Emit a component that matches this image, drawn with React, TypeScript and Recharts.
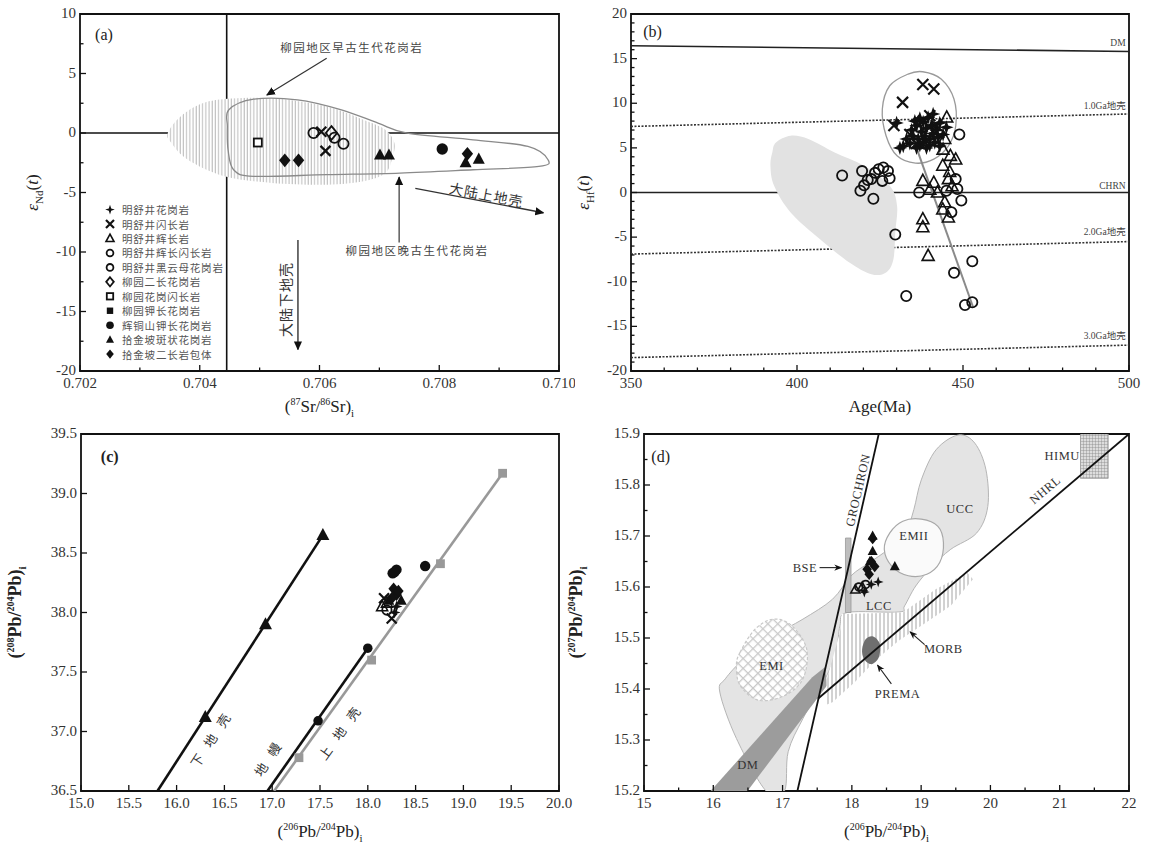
import React from 'react';
import { ScatterChart, Scatter, XAxis, YAxis, ReferenceArea, Label } from 'recharts';

type Pt = { x: number; y: number };
type Note = { x: number; y: number; t: string };
const P = (arr: number[][]): Pt[] => arr.map(([x, y]) => ({ x, y }));

const SERIF = '"Liberation Serif", "DejaVu Serif", serif';
const CJK = '"Noto Sans CJK SC", "Noto Sans", sans-serif';

// ---------- panel (a): eNd(t) vs (87Sr/86Sr)i ----------
const A_XTICKS = [0.702, 0.703, 0.704, 0.705, 0.706, 0.707, 0.708, 0.709, 0.71];
const A_XMAJ = [0.702, 0.704, 0.706, 0.708, 0.71];
const A_YTICKS = [-20, -17.5, -15, -12.5, -10, -7.5, -5, -2.5, 0, 2.5, 5, 7.5, 10];
const A_YMAJ = [-20, -15, -10, -5, 0, 5, 10];

const A_VLINE = P([[0.70445, -20], [0.70445, 10]]);
const A_HLINE = P([[0.702, 0], [0.71, 0]]);
const A_EARLY = P([
  [0.703466, -0.01], [0.70368, 1.39], [0.704046, 2.5], [0.704534, 2.9], [0.705267, 2.9],
  [0.706122, 2.23], [0.706733, 1.11], [0.707099, 0.27], [0.707252, -0.85], [0.707222, -1.97],
  [0.707099, -3.37], [0.706733, -4.06], [0.706122, -4.34], [0.705206, -4.2], [0.704412, -3.64],
  [0.703801, -2.25], [0.703527, -0.85],
]);
const A_LATE = P([
  [0.704486, 1.95], [0.704901, 2.84], [0.705634, 2.79], [0.706367, 1.95], [0.706977, 0.83],
  [0.707466, -0.01], [0.708565, -0.57], [0.709481, -1.13], [0.709817, -2.25], [0.709664, -2.81],
  [0.708565, -3.09], [0.707344, -3.37], [0.706122, -3.5], [0.704901, -3.64], [0.704565, -3.09],
  [0.704473, -1.41], [0.704461, 0.55],
]);
const A_SQO = P([[0.70497, -0.8]]);
const A_DIA = P([[0.70542, -2.3], [0.70565, -2.3], [0.70847, -1.75]]);
const A_CIRCO = P([[0.7059, 0.0], [0.70625, -0.4], [0.7064, -0.9]]);
const A_DIAO = P([[0.7062, 0.0]]);
const A_X = P([[0.7061, -1.5], [0.70603, 0.1]]);
const A_TRI = P([[0.70701, -1.85], [0.70716, -1.85], [0.70844, -2.5], [0.70866, -2.2]]);
const A_CIRC = P([[0.70805, -1.35]]);
const A_ARROW1 = P([[0.70612, 6.28], [0.70512, 3.2]]);
const A_ARROW2 = P([[0.70733, -9.2], [0.70733, -3.7]]);
const A_ARROW3 = P([[0.7076, -4.65], [0.70974, -6.7]]);
const A_ARROW4 = P([[0.70564, -8.99], [0.70564, -18.2]]);
const A_NOTES: Note[] = [
  { x: 0.70654, y: 7.23, t: '柳园地区早古生代花岗岩' },
  { x: 0.70763, y: -9.83, t: '柳园地区晚古生代花岗岩' },
];
const A_UPPER: Note[] = [{ x: 0.70879, y: -5.15, t: '大陆上地壳' }];
const A_LOWER: Note[] = [{ x: 0.70542, y: -14.0, t: '大陆下地壳' }];
const A_TAG: Note[] = [{ x: 0.7024, y: 8.3, t: '(a)' }];
const A_LEGEND = [
  { kind: 'star', label: '明舒井花岗岩' },
  { kind: 'x', label: '明舒井闪长岩' },
  { kind: 'triO', label: '明舒井辉长岩' },
  { kind: 'circO', label: '明舒井辉长闪长岩' },
  { kind: 'circO', label: '明舒井黑云母花岗岩' },
  { kind: 'diaO', label: '柳园二长花岗岩' },
  { kind: 'sqO', label: '柳园花岗闪长岩' },
  { kind: 'sq', label: '柳园钾长花岗岩' },
  { kind: 'circ', label: '辉铜山钾长花岗岩' },
  { kind: 'tri', label: '拾金坡斑状花岗岩' },
  { kind: 'dia', label: '拾金坡二长岩包体' },
];

// ---------- panel (b): eHf(t) vs Age ----------
const B_XTICKS = [350, 360, 370, 380, 390, 400, 410, 420, 430, 440, 450, 460, 470, 480, 490, 500];
const B_XMAJ = [350, 400, 450, 500];
const B_YTICKS = [
  -20, -19, -18, -17, -16, -15, -14, -13, -12, -11, -10, -9, -8, -7, -6, -5, -4, -3, -2, -1, 0,
  1, 2, 3, 4, 5, 6, 7, 8, 9, 10, 11, 12, 13, 14, 15, 16, 17, 18, 19, 20,
];
const B_YMAJ = [-20, -15, -10, -5, 0, 5, 10, 15, 20];
const B_DM = P([[350, 16.45], [500, 15.8]]);
const B_G1 = P([[350, 7.4], [500, 8.8]]);
const B_CHUR = P([[350, 0], [500, 0]]);
const B_G2 = P([[350, -6.9], [500, -5.5]]);
const B_G3 = P([[350, -18.5], [500, -17.1]]);
const B_BLOB = P([
  [392.56, 4.49], [393.66, 5.61], [398.08, 6.36], [403.61, 5.98], [411.35, 4.49], [420.19, 2.99],
  [427.93, 0.75], [430.14, -1.5], [429.59, -4.49], [429.04, -7.48], [426.83, -8.97], [422.4, -9.16],
  [415.77, -7.85], [406.93, -5.23], [398.08, -2.24], [393.11, 0.75], [392.0, 3.0],
]);
const B_EGG = P([
  [425.7, 9.35], [427.93, 11.96], [433.46, 13.27], [437.88, 13.53], [443.41, 12.71], [447.28, 10.47],
  [447.83, 7.48], [445.62, 5.23], [441.2, 3.74], [435.67, 3.29], [430.14, 4.11], [426.83, 6.36],
]);
const B_TREND = P([[436, 5.0], [453, -12.8]]);
const B_STAR = P([
  [432, 5.2], [433, 6.0], [434, 5.5], [434.5, 7.0], [435, 6.3], [435.5, 8.0], [436, 5.0], [436, 7.5],
  [436.5, 6.0], [437, 5.3], [437, 8.3], [437.5, 6.8], [438, 5.6], [438, 7.9], [438.5, 6.3], [439, 5.0],
  [439, 7.2], [439.5, 8.4], [440, 6.0], [440, 5.3], [440.5, 7.5], [441, 6.6], [441, 8.8], [441.5, 5.6],
  [442, 7.0], [442.5, 6.2], [443, 7.8], [443, 5.2], [444, 6.5], [445, 7.3], [430, 7.8], [431, 5.0],
]);
const B_X = P([
  [431.8, 10.1], [437.9, 12.1], [441.2, 11.6], [429.2, 7.5], [434, 6.5], [438, 8.0], [440, 8.6],
  [442, 7.5], [436, 5.5], [439, 5.8], [436.5, 7.6],
]);
const B_TRIO = P([
  [445.1, 8.4], [444.5, 6.0], [446.2, 4.1], [447.8, 3.7], [443.9, 3.0], [437.9, 1.3], [441.2, 1.1],
  [442.3, 0.0], [445.6, 1.5], [444.5, -1.1], [443.9, -1.9], [445.6, -2.8], [437.9, -3.0], [437.9, -3.9],
  [439.5, -7.1], [446.7, 0.7], [440, 0.3], [446, 2.3], [444, 4.8],
]);
const B_CIRCO = P([
  [413.6, 1.9], [419.6, 2.4], [419.1, 0.2], [420.2, 0.8], [422.4, 1.5], [423, -0.7], [423.5, 2.2],
  [424.6, 2.6], [425.7, 1.3], [427.4, 2.4], [427.9, 1.6], [421.3, 1.4], [426, 2.8],
  [429.6, -4.7], [432.9, -11.6], [436.8, 0.0], [448.9, 6.5], [447.8, 1.5], [448.3, 0.4], [449.5, -0.9],
  [447.3, -9.0], [450.6, -12.6], [452.8, -12.3], [452.8, -7.7], [446.5, -2.2], [445, 0.2],
]);
const B_LINE_NOTES: Note[] = [
  { x: 499, y: 16.7, t: 'DM' },
  { x: 499, y: 9.7, t: '1.0Ga地壳' },
  { x: 499, y: 0.7, t: 'CHRN' },
  { x: 499, y: -4.4, t: '2.0Ga地壳' },
  { x: 499, y: -16.1, t: '3.0Ga地壳' },
];
const B_TAG: Note[] = [{ x: 356.5, y: 18.0, t: '(b)' }];

// ---------- panel (c): 208Pb/204Pb vs 206Pb/204Pb ----------
const C_XTICKS = [15, 15.5, 16, 16.5, 17, 17.5, 18, 18.5, 19, 19.5, 20];
const C_YTICKS = [36.5, 37, 37.5, 38, 38.5, 39, 39.5];
const C_LOWER_LINE = P([[15.8, 36.5], [17.53, 38.65]]);
const C_LOWER_PTS = P([[16.3, 37.12], [16.93, 37.9], [17.53, 38.65]]);
const C_MANTLE_LINE = P([[16.95, 36.5], [18.0, 37.7]]);
const C_MANTLE_PTS = P([[17.48, 37.09], [18.0, 37.7]]);
const C_UPPER_LINE = P([[17.02, 36.5], [19.41, 39.17]]);
const C_UPPER_PTS = P([[17.28, 36.78], [18.04, 37.6], [18.76, 38.41], [19.41, 39.17]]);
const C_CIRC = P([[18.26, 38.33], [18.3, 38.36], [18.6, 38.39], [18.28, 38.34]]);
const C_DIA = P([[18.27, 38.2], [18.3, 38.15], [18.25, 38.12], [18.32, 38.18]]);
const C_TRI = P([[18.22, 38.1], [18.35, 38.1]]);
const C_TRIO = P([[18.15, 38.05], [18.2, 38.08]]);
const C_CIRCO = P([[18.2, 38.02]]);
const C_X = P([[18.25, 37.95], [18.17, 38.12]]);
const C_STAR = P([[18.28, 38.0], [18.3, 38.05]]);
const C_NOTE_LOWER: Note[] = [{ x: 16.36, y: 36.94, t: '下 地 壳' }];
const C_NOTE_MANTLE: Note[] = [{ x: 16.96, y: 36.78, t: '地 幔' }];
const C_NOTE_UPPER: Note[] = [{ x: 17.71, y: 37.0, t: '上 地 壳' }];
const C_TAG: Note[] = [{ x: 15.3, y: 39.31, t: '(c)' }];

// ---------- panel (d): 207Pb/204Pb vs 206Pb/204Pb ----------
const D_XTICKS = [15, 15.5, 16, 16.5, 17, 17.5, 18, 18.5, 19, 19.5, 20, 20.5, 21, 21.5, 22];
const D_XMAJ = [15, 16, 17, 18, 19, 20, 21, 22];
const D_YTICKS = [15.2, 15.25, 15.3, 15.35, 15.4, 15.45, 15.5, 15.55, 15.6, 15.65, 15.7, 15.75, 15.8, 15.85, 15.9];
const D_YMAJ = [15.2, 15.3, 15.4, 15.5, 15.6, 15.7, 15.8, 15.9];
const D_CRUST = P([
  [19.535, 15.898], [19.775, 15.882], [19.935, 15.83], [19.962, 15.758], [19.802, 15.706],
  [19.428, 15.674], [19.162, 15.641], [18.922, 15.602], [18.761, 15.563], [18.681, 15.551],
  [17.934, 15.55], [17.828, 15.524], [17.774, 15.472], [17.614, 15.42], [17.294, 15.342],
  [17.081, 15.277], [17.027, 15.2], [16.761, 15.2], [16.334, 15.303], [16.094, 15.394],
  [16.174, 15.42], [16.441, 15.459], [16.867, 15.504], [17.294, 15.537], [17.721, 15.576],
  [17.988, 15.622], [18.255, 15.648], [18.521, 15.674], [18.788, 15.713], [18.895, 15.752],
  [19.002, 15.81], [19.215, 15.869],
]);
const D_EMII = P([
  [18.468, 15.674], [18.548, 15.706], [18.735, 15.729], [19.002, 15.733], [19.242, 15.719],
  [19.322, 15.687], [19.268, 15.648], [19.082, 15.625], [18.815, 15.622], [18.575, 15.641],
]);
const D_EMI = P([
  [16.387, 15.472], [16.601, 15.517], [16.867, 15.537], [17.134, 15.524], [17.348, 15.478],
  [17.294, 15.42], [17.027, 15.387], [16.654, 15.378], [16.387, 15.407], [16.334, 15.446],
]);
const D_DM = P([[15.96, 15.2], [17.428, 15.423], [17.614, 15.443], [17.641, 15.407], [16.494, 15.2]]);
const D_MORB = P([
  [17.854, 15.547], [18.735, 15.55], [19.215, 15.596], [19.668, 15.628], [19.748, 15.615],
  [19.428, 15.563], [19.002, 15.524], [18.681, 15.495], [18.361, 15.459], [18.041, 15.413],
  [17.721, 15.374], [17.614, 15.368], [17.641, 15.42], [17.828, 15.511],
]);
const D_PREMA = P([
  [18.201, 15.498], [18.308, 15.503], [18.404, 15.488], [18.388, 15.462], [18.281, 15.449],
  [18.175, 15.459], [18.148, 15.478],
]);
const D_BSE = P([[17.908, 15.55], [17.988, 15.55], [17.988, 15.696], [17.908, 15.696]]);
const D_HIMU = P([[21.3, 15.813], [21.7, 15.813], [21.7, 15.9], [21.3, 15.9]]);
const D_GROCHRON = P([[17.214, 15.2], [18.388, 15.9]]);
const D_NHRL = P([[17.51, 15.381], [22, 15.9]]);
const D_ARROW_BSE = P([[17.534, 15.638], [17.85, 15.638]]);
const D_ARROW_MORB = P([[19.05, 15.487], [18.84, 15.512]]);
const D_ARROW_PREMA = P([[18.57, 15.41], [18.37, 15.447]]);
const D_DIA = P([[18.3, 15.695], [18.22, 15.635], [18.33, 15.64], [18.25, 15.625], [18.28, 15.65]]);
const D_TRI = P([[18.3, 15.67], [18.26, 15.65], [18.62, 15.64], [18.3, 15.7]]);
const D_TRIO = P([[18.05, 15.595], [18.15, 15.6]]);
const D_CIRCO = P([[18.1, 15.6], [18.2, 15.605]]);
const D_STAR = P([[18.28, 15.605], [18.38, 15.61], [18.18, 15.59]]);
const D_NOTES: Note[] = [
  { x: 19.56, y: 15.752, t: 'UCC' },
  { x: 18.895, y: 15.7, t: 'EMII' },
  { x: 18.39, y: 15.563, t: 'LCC' },
  { x: 16.84, y: 15.446, t: 'EMI' },
  { x: 16.5, y: 15.251, t: 'DM' },
  { x: 19.32, y: 15.478, t: 'MORB' },
  { x: 18.66, y: 15.391, t: 'PREMA' },
];
const D_NOTES_END: Note[] = [
  { x: 17.5, y: 15.638, t: 'BSE' },
  { x: 21.29, y: 15.856, t: 'HIMU' },
];
const D_GRO_NOTE: Note[] = [{ x: 18.09, y: 15.79, t: 'GROCHRON' }];
const D_NHRL_NOTE: Note[] = [{ x: 20.79, y: 15.79, t: 'NHRL' }];
const D_TAG: Note[] = [{ x: 15.24, y: 15.856, t: '(d)' }];

// ---------- drawing helpers ----------
const near = (list: number[], v: number) => list.some((m) => Math.abs(m - v) < 1e-9);

const xTick = (majors: number[], fmt: (v: number) => string) => (p: any) => {
  const v = p.payload.value;
  const major = near(majors, v);
  return (
    <g>
      <line x1={p.x} x2={p.x} y1={p.y} y2={p.y - (major ? 6 : 3.5)} stroke="#111" strokeWidth={1.3} />
      {major && (
        <text x={p.x} y={p.y + 17} textAnchor="middle" fontFamily={SERIF} fontSize={15} fill="#333">
          {fmt(v)}
        </text>
      )}
    </g>
  );
};

const yTick = (majors: number[], fmt: (v: number) => string) => (p: any) => {
  const v = p.payload.value;
  const major = near(majors, v);
  return (
    <g>
      <line x1={p.x} x2={p.x + (major ? 6 : 3.5)} y1={p.y} y2={p.y} stroke="#111" strokeWidth={1.3} />
      {major && (
        <text x={p.x - 4} y={p.y + 4} textAnchor="end" fontFamily={SERIF} fontSize={15} fill="#333">
          {fmt(v)}
        </text>
      )}
    </g>
  );
};

function smoothClosed(pts: Pt[]) {
  const n = pts.length;
  let d = `M${pts[0].x},${pts[0].y}`;
  for (let i = 0; i < n; i++) {
    const p0 = pts[(i - 1 + n) % n];
    const p1 = pts[i];
    const p2 = pts[(i + 1) % n];
    const p3 = pts[(i + 2) % n];
    const c1x = p1.x + (p2.x - p0.x) / 6;
    const c1y = p1.y + (p2.y - p0.y) / 6;
    const c2x = p2.x - (p3.x - p1.x) / 6;
    const c2y = p2.y - (p3.y - p1.y) / 6;
    d += ` C${c1x},${c1y} ${c2x},${c2y} ${p2.x},${p2.y}`;
  }
  return d + 'Z';
}

type PathOpts = {
  closed?: boolean;
  smooth?: boolean;
  fill?: string;
  stroke?: string;
  sw?: number;
  dash?: string;
  marker?: string;
};

const pathLine = (o: PathOpts) => (props: any) => {
  const pts: Pt[] = (props.points || []).filter(
    (q: any) => Number.isFinite(q.x) && Number.isFinite(q.y),
  );
  if (pts.length < 2) return <g />;
  const d = o.smooth
    ? smoothClosed(pts)
    : 'M' + pts.map((q) => `${q.x},${q.y}`).join('L') + (o.closed ? 'Z' : '');
  return (
    <path
      d={d}
      fill={o.fill ?? 'none'}
      stroke={o.stroke ?? 'none'}
      strokeWidth={o.sw ?? 1}
      strokeDasharray={o.dash}
      markerEnd={o.marker ? `url(#${o.marker})` : undefined}
    />
  );
};

const noDot = () => <g />;

function Glyph({ kind, cx, cy, s }: { kind: string; cx: number; cy: number; s: number }) {
  const c = '#111';
  const tri = `M${cx},${cy - s * 1.1} L${cx + s},${cy + s * 0.75} L${cx - s},${cy + s * 0.75}Z`;
  const dia = `M${cx},${cy - s * 1.15} L${cx + s * 0.95},${cy} L${cx},${cy + s * 1.15} L${cx - s * 0.95},${cy}Z`;
  const k = s * 0.3;
  switch (kind) {
    case 'star':
      return (
        <path
          d={`M${cx},${cy - s * 1.2} L${cx + k},${cy - k} L${cx + s * 1.2},${cy} L${cx + k},${cy + k} L${cx},${cy + s * 1.2} L${cx - k},${cy + k} L${cx - s * 1.2},${cy} L${cx - k},${cy - k}Z`}
          fill={c}
        />
      );
    case 'x':
      return (
        <path
          d={`M${cx - s},${cy - s}L${cx + s},${cy + s}M${cx + s},${cy - s}L${cx - s},${cy + s}`}
          stroke={c}
          strokeWidth={2.2}
        />
      );
    case 'triO':
      return <path d={tri} fill="none" stroke={c} strokeWidth={1.6} />;
    case 'circO':
      return <circle cx={cx} cy={cy} r={s * 0.85} fill="none" stroke={c} strokeWidth={1.8} />;
    case 'diaO':
      return <path d={dia} fill="none" stroke={c} strokeWidth={1.8} />;
    case 'sqO':
      return <rect x={cx - s * 0.8} y={cy - s * 0.8} width={s * 1.6} height={s * 1.6} fill="#fff" stroke={c} strokeWidth={1.8} />;
    case 'sq':
      return <rect x={cx - s * 0.8} y={cy - s * 0.8} width={s * 1.6} height={s * 1.6} fill={c} />;
    case 'circ':
      return <circle cx={cx} cy={cy} r={s * 0.95} fill={c} />;
    case 'tri':
      return <path d={tri} fill={c} />;
    case 'dia':
      return <path d={dia} fill={c} />;
    case 'sqGray':
      return <rect x={cx - s * 0.8} y={cy - s * 0.8} width={s * 1.6} height={s * 1.6} fill="#999" />;
    default:
      return <g />;
  }
}

const sym = (kind: string, s = 5) => (p: any) => {
  if (!Number.isFinite(p.cx) || !Number.isFinite(p.cy)) return <g />;
  return <Glyph kind={kind} cx={p.cx} cy={p.cy} s={s} />;
};

type TxtOpts = {
  size?: number;
  anchor?: 'start' | 'middle' | 'end';
  rot?: number;
  font?: string;
  fill?: string;
  weight?: string | number;
  spacing?: number;
};
const txt = (o: TxtOpts) => (p: any) => {
  if (!Number.isFinite(p.cx) || !Number.isFinite(p.cy)) return <g />;
  return (
    <text
      x={p.cx}
      y={p.cy}
      textAnchor={o.anchor ?? 'middle'}
      dominantBaseline="central"
      transform={o.rot ? `rotate(${o.rot} ${p.cx} ${p.cy})` : undefined}
      fontSize={o.size ?? 12}
      fontFamily={o.font ?? SERIF}
      fill={o.fill ?? '#222'}
      fontWeight={o.weight}
      letterSpacing={o.spacing}
    >
      {p.payload.t}
    </text>
  );
};

// Recharts series wrappers
const Shape = (key: string, data: Pt[], o: PathOpts) => (
  <Scatter key={key} data={data} line={pathLine(o)} lineType="joint" shape={noDot} isAnimationActive={false} />
);
const Marks = (key: string, data: Pt[], kind: string, s = 5) => (
  <Scatter key={key} data={data} shape={sym(kind, s)} isAnimationActive={false} />
);
const Texts = (key: string, data: Note[], o: TxtOpts) => (
  <Scatter key={key} data={data} shape={txt(o)} isAnimationActive={false} />
);
const Frame = (x: [number, number], y: [number, number]) => (
  <ReferenceArea x1={x[0]} x2={x[1]} y1={y[0]} y2={y[1]} fill="none" stroke="#111" strokeWidth={1.8} ifOverflow="visible" />
);

const xTitle = (parts: () => React.ReactNode, gap: number) => (props: any) => {
  const vb = props.viewBox || {};
  return (
    <text x={vb.x + vb.width / 2} y={vb.y + gap} textAnchor="middle" fontFamily={SERIF} fontSize={17} fill="#222">
      {parts()}
    </text>
  );
};

const yTitle = (parts: React.ReactNode, offset: number, bold = false, size = 17) => (props: any) => {
  const vb = props.viewBox || {};
  const x = vb.x + vb.width - offset;
  const y = vb.y + vb.height / 2;
  return (
    <text
      x={x}
      y={y}
      textAnchor="middle"
      transform={`rotate(-90 ${x} ${y})`}
      fontFamily={SERIF}
      fontSize={size}
      fontWeight={bold ? 'bold' : 'normal'}
      fill="#222"
    >
      {parts}
    </text>
  );
};

const pbTitle = (top: string) => (
  <>
    <tspan>(</tspan>
    <tspan dy={-7} fontSize={10}>{top}</tspan>
    <tspan dy={7}>Pb/</tspan>
    <tspan dy={-7} fontSize={10}>204</tspan>
    <tspan dy={7}>Pb)</tspan>
    <tspan dy={5} fontSize={11}>i</tspan>
  </>
);

const epsTitle = (sub: string) => (
  <>
    <tspan fontStyle="italic">ε</tspan>
    <tspan dy={5} fontSize={11}>{sub}</tspan>
    <tspan dy={-5}>(</tspan>
    <tspan fontStyle="italic">t</tspan>
    <tspan>)</tspan>
  </>
);

const axisCommon = {
  type: 'number' as const,
  allowDataOverflow: true,
  interval: 0 as const,
  tickSize: 0,
  tickMargin: 0,
  tickLine: false,
  axisLine: false,
};

function PanelA() {
  return (
    <ScatterChart width={575} height={420} margin={{ top: 14, right: 16, bottom: 0, left: 0 }}>
      <XAxis {...axisCommon} dataKey="x" domain={[0.702, 0.71]} ticks={A_XTICKS} height={49} tick={xTick(A_XMAJ, (v) => v.toFixed(3))}>
        <Label
          content={xTitle(
            () => (
              <>
                <tspan>(</tspan>
                <tspan dy={-7} fontSize={10}>87</tspan>
                <tspan dy={7}>Sr/</tspan>
                <tspan dy={-7} fontSize={10}>86</tspan>
                <tspan dy={7}>Sr)</tspan>
                <tspan dy={5} fontSize={11}>i</tspan>
              </>
            ),
            41,
          )}
        />
      </XAxis>
      <YAxis {...axisCommon} dataKey="y" domain={[-20, 10]} ticks={A_YTICKS} width={80} tick={yTick(A_YMAJ, (v) => String(v))}>
        <Label content={yTitle(epsTitle('Nd'), 42)} />
      </YAxis>
      {Shape('vline', A_VLINE, { stroke: '#111', sw: 1.6 })}
      {Shape('hline', A_HLINE, { stroke: '#111', sw: 1.6 })}
      {Shape('early', A_EARLY, { smooth: true, fill: 'url(#vhatch)' })}
      {Shape('late', A_LATE, { smooth: true, stroke: '#8a8a8a', sw: 1.3 })}
      {Shape('ar1', A_ARROW1, { stroke: '#333', sw: 1.2, marker: 'ahBig' })}
      {Shape('ar2', A_ARROW2, { stroke: '#333', sw: 1.2, marker: 'ahBig' })}
      {Shape('ar3', A_ARROW3, { stroke: '#333', sw: 1.4, marker: 'ahBig' })}
      {Shape('ar4', A_ARROW4, { stroke: '#333', sw: 1.4, marker: 'ahBig' })}
      {Marks('sqo', A_SQO, 'sqO', 5)}
      {Marks('dia', A_DIA, 'dia', 6)}
      {Marks('circo', A_CIRCO, 'circO', 6)}
      {Marks('diao', A_DIAO, 'diaO', 6)}
      {Marks('x', A_X, 'x', 5)}
      {Marks('tri', A_TRI, 'tri', 6)}
      {Marks('circ', A_CIRC, 'circ', 6)}
      {Texts('notes', A_NOTES, { font: CJK, size: 11.5, fill: '#444', spacing: 1.5 })}
      {Texts('upper', A_UPPER, { font: CJK, size: 14, fill: '#333', rot: 11, spacing: 1 })}
      {Texts('lower', A_LOWER, { font: CJK, size: 14, fill: '#333', rot: -90, spacing: 1 })}
      {Texts('tag', A_TAG, { size: 16 })}
      {Frame([0.702, 0.71], [-20, 10])}
    </ScatterChart>
  );
}

function PanelB() {
  return (
    <ScatterChart width={574} height={420} margin={{ top: 14, right: 20, bottom: 0, left: 0 }}>
      <XAxis {...axisCommon} dataKey="x" domain={[350, 500]} ticks={B_XTICKS} height={49} tick={xTick(B_XMAJ, (v) => String(v))}>
        <Label content={xTitle(() => <tspan>Age(Ma)</tspan>, 41)} />
      </XAxis>
      <YAxis {...axisCommon} dataKey="y" domain={[-20, 20]} ticks={B_YTICKS} width={56} tick={yTick(B_YMAJ, (v) => String(v))}>
        <Label content={yTitle(epsTitle('Hf'), 42)} />
      </YAxis>
      {Shape('dm', B_DM, { stroke: '#222', sw: 1.6 })}
      {Shape('g1', B_G1, { stroke: '#333', sw: 1.6, dash: '2 1.5' })}
      {Shape('chur', B_CHUR, { stroke: '#222', sw: 1.6 })}
      {Shape('g2', B_G2, { stroke: '#333', sw: 1.6, dash: '2 1.5' })}
      {Shape('g3', B_G3, { stroke: '#333', sw: 1.6, dash: '2 1.5' })}
      {Shape('blob', B_BLOB, { smooth: true, fill: '#e2e2e2' })}
      {Shape('egg', B_EGG, { smooth: true, stroke: '#9a9a9a', sw: 1.3 })}
      {Shape('trend', B_TREND, { stroke: '#8a8a8a', sw: 2 })}
      {Marks('circo', B_CIRCO, 'circO', 6)}
      {Marks('trio', B_TRIO, 'triO', 6)}
      {Marks('star', B_STAR, 'star', 6)}
      {Marks('x', B_X, 'x', 5.5)}
      {Texts('lnotes', B_LINE_NOTES, { size: 9.5, anchor: 'end', fill: '#444', font: `"Liberation Serif", ${CJK}` })}
      {Texts('tag', B_TAG, { size: 16 })}
      {Frame([350, 500], [-20, 20])}
    </ScatterChart>
  );
}

function PanelC() {
  return (
    <ScatterChart width={575} height={437} margin={{ top: 14, right: 16, bottom: 0, left: 0 }}>
      <XAxis {...axisCommon} dataKey="x" domain={[15, 20]} ticks={C_XTICKS} height={66} tick={xTick(C_XTICKS, (v) => v.toFixed(1))}>
        <Label content={xTitle(() => pbTitle('206'), 46)} />
      </XAxis>
      <YAxis {...axisCommon} dataKey="y" domain={[36.5, 39.5]} ticks={C_YTICKS} width={81} tick={yTick(C_YTICKS, (v) => v.toFixed(1))}>
        <Label content={yTitle(pbTitle('208'), 60, true, 18)} />
      </YAxis>
      {Shape('upper', C_UPPER_LINE, { stroke: '#999', sw: 2.6 })}
      {Shape('mantle', C_MANTLE_LINE, { stroke: '#111', sw: 2.6 })}
      {Shape('lower', C_LOWER_LINE, { stroke: '#111', sw: 2.6 })}
      {Marks('upts', C_UPPER_PTS, 'sqGray', 5.5)}
      {Marks('mpts', C_MANTLE_PTS, 'circ', 5)}
      {Marks('lpts', C_LOWER_PTS, 'tri', 6.5)}
      {Marks('circ', C_CIRC, 'circ', 5.5)}
      {Marks('dia', C_DIA, 'dia', 5.5)}
      {Marks('tri', C_TRI, 'tri', 5.5)}
      {Marks('trio', C_TRIO, 'triO', 5.5)}
      {Marks('circo', C_CIRCO, 'circO', 5.5)}
      {Marks('x', C_X, 'x', 5)}
      {Marks('star', C_STAR, 'star', 5)}
      {Texts('nl', C_NOTE_LOWER, { font: CJK, size: 13, rot: -57, spacing: 4, fill: '#333' })}
      {Texts('nm', C_NOTE_MANTLE, { font: CJK, size: 13, rot: -57, spacing: 4, fill: '#333' })}
      {Texts('nu', C_NOTE_UPPER, { font: CJK, size: 13, rot: -54, spacing: 4, fill: '#333' })}
      {Texts('tag', C_TAG, { size: 16, weight: 'bold' })}
      {Frame([15, 20], [36.5, 39.5])}
    </ScatterChart>
  );
}

function PanelD() {
  return (
    <ScatterChart width={594} height={437} margin={{ top: 14, right: 20, bottom: 0, left: 0 }}>
      <XAxis {...axisCommon} dataKey="x" domain={[15, 22]} ticks={D_XTICKS} height={66} tick={xTick(D_XMAJ, (v) => String(v))}>
        <Label content={xTitle(() => pbTitle('206'), 46)} />
      </XAxis>
      <YAxis {...axisCommon} dataKey="y" domain={[15.2, 15.9]} ticks={D_YTICKS} width={89} tick={yTick(D_YMAJ, (v) => v.toFixed(1))}>
        <Label content={yTitle(pbTitle('207'), 62, true, 18)} />
      </YAxis>
      {Shape('crust', D_CRUST, { smooth: true, fill: '#e4e4e4', stroke: '#b5b5b5', sw: 1 })}
      {Shape('dm', D_DM, { closed: true, fill: '#9c9c9c' })}
      {Shape('emi', D_EMI, { smooth: true, fill: 'url(#dhatch)', stroke: '#c8c8c8', sw: 1.2, dash: '3 2' })}
      {Shape('emii', D_EMII, { smooth: true, fill: '#fafafa', stroke: '#a8a8a8', sw: 1.2 })}
      {Shape('morb', D_MORB, { closed: true, fill: 'url(#vhatch2)' })}
      {Shape('prema', D_PREMA, { smooth: true, fill: '#6f6f6f' })}
      {Shape('bse', D_BSE, { closed: true, fill: '#bdbdbd', stroke: '#999', sw: 0.8 })}
      {Shape('himu', D_HIMU, { closed: true, fill: 'url(#xhatch)', stroke: '#999', sw: 0.8 })}
      {Shape('gro', D_GROCHRON, { stroke: '#111', sw: 1.8 })}
      {Shape('nhrl', D_NHRL, { stroke: '#111', sw: 1.8 })}
      {Shape('abse', D_ARROW_BSE, { stroke: '#222', sw: 1.1, marker: 'ahSmall' })}
      {Shape('amorb', D_ARROW_MORB, { stroke: '#222', sw: 1.1, marker: 'ahSmall' })}
      {Shape('aprema', D_ARROW_PREMA, { stroke: '#222', sw: 1.1, marker: 'ahSmall' })}
      {Marks('trio', D_TRIO, 'triO', 4.5)}
      {Marks('circo', D_CIRCO, 'circO', 4.5)}
      {Marks('star', D_STAR, 'star', 4.5)}
      {Marks('dia', D_DIA, 'dia', 5)}
      {Marks('tri', D_TRI, 'tri', 5)}
      {Texts('notes', D_NOTES, { size: 12.5, fill: '#333', spacing: 0.5 })}
      {Texts('notesEnd', D_NOTES_END, { size: 12.5, fill: '#333', anchor: 'end', spacing: 0.5 })}
      {Texts('gro', D_GRO_NOTE, { size: 12.5, fill: '#333', rot: -77, spacing: 0.5 })}
      {Texts('nhrl', D_NHRL_NOTE, { size: 12.5, fill: '#333', rot: -40, spacing: 0.5 })}
      {Texts('tag', D_TAG, { size: 16 })}
      {Frame([15, 22], [15.2, 15.9])}
    </ScatterChart>
  );
}

function LegendA() {
  return (
    <svg width={130} height={170} style={{ position: 'absolute', left: 100, top: 200 }}>
      {A_LEGEND.map((e, i) => (
        <g key={i}>
          <Glyph kind={e.kind} cx={10} cy={9.6 + i * 14.45} s={4} />
          <text x={22} y={9.6 + i * 14.45} dominantBaseline="central" fontFamily={CJK} fontSize={10.5} fill="#555" letterSpacing={0.8}>
            {e.label}
          </text>
        </g>
      ))}
    </svg>
  );
}

function Defs() {
  return (
    <svg width={0} height={0} style={{ position: 'absolute' }}>
      <defs>
        <pattern id="vhatch" width={3.2} height={4} patternUnits="userSpaceOnUse">
          <rect width={3.2} height={4} fill="#fff" />
          <line x1={1} y1={0} x2={1} y2={4} stroke="#b0b0b0" strokeWidth={0.9} />
        </pattern>
        <pattern id="vhatch2" width={4} height={4} patternUnits="userSpaceOnUse">
          <rect width={4} height={4} fill="#fff" />
          <line x1={1} y1={0} x2={1} y2={4} stroke="#9a9a9a" strokeWidth={0.9} />
        </pattern>
        <pattern id="xhatch" width={3} height={3} patternUnits="userSpaceOnUse">
          <rect width={3} height={3} fill="#ddd" />
          <path d="M0,0H3M0,0V3" stroke="#888" strokeWidth={0.8} />
        </pattern>
        <pattern id="dhatch" width={7} height={7} patternUnits="userSpaceOnUse" patternTransform="rotate(45)">
          <rect width={7} height={7} fill="#fff" />
          <path d="M0,0H7M0,0V7" stroke="#c9c9c9" strokeWidth={2.6} />
        </pattern>
        <marker id="ahBig" viewBox="0 0 10 10" refX={9} refY={5} markerWidth={9} markerHeight={9} orient="auto" markerUnits="userSpaceOnUse">
          <path d="M0,0.5 L10,5 L0,9.5z" fill="#111" />
        </marker>
        <marker id="ahSmall" viewBox="0 0 10 10" refX={9} refY={5} markerWidth={8} markerHeight={8} orient="auto" markerUnits="userSpaceOnUse">
          <path d="M0,1 L10,5 L0,9 L3,5z" fill="#111" />
        </marker>
      </defs>
    </svg>
  );
}

export default function App() {
  return (
    <div style={{ position: 'absolute', left: 0, top: 0, width: 1149, height: 857, background: '#fff' }}>
      <Defs />
      <div style={{ position: 'absolute', left: 0, top: 0 }}>
        <PanelA />
      </div>
      <div style={{ position: 'absolute', left: 575, top: 0 }}>
        <PanelB />
      </div>
      <div style={{ position: 'absolute', left: 0, top: 420 }}>
        <PanelC />
      </div>
      <div style={{ position: 'absolute', left: 555, top: 420 }}>
        <PanelD />
      </div>
      <LegendA />
    </div>
  );
}
